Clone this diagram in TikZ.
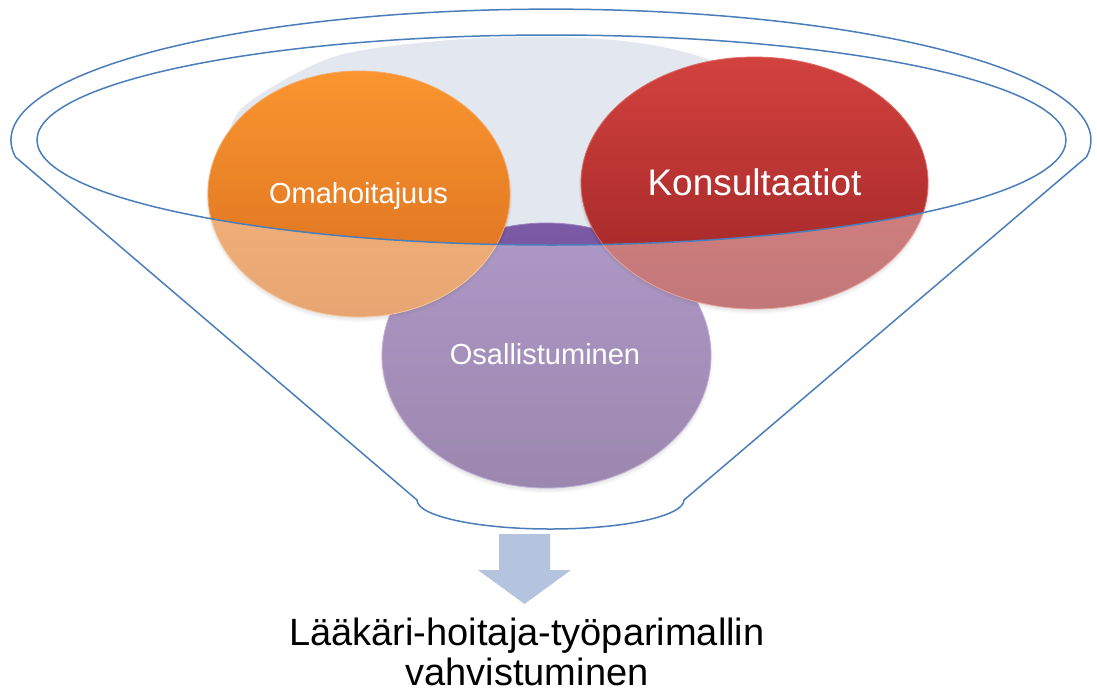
\documentclass[tikz,border=0pt]{standalone}
\usepackage{fontspec}
\setmainfont{Liberation Sans}
\usetikzlibrary{shapes.geometric,calc}

\definecolor{rim}{HTML}{4A7EBB}
\definecolor{haze}{HTML}{E2E7F0}
\definecolor{orTop}{HTML}{FA9530}
\definecolor{orBot}{HTML}{D96E1E}
\definecolor{orEdge}{HTML}{F6A866}
\definecolor{rdTop}{HTML}{D2423E}
\definecolor{rdBot}{HTML}{9D2426}
\definecolor{rdEdge}{HTML}{DC6A62}
\definecolor{puTop}{HTML}{7D5AA6}
\definecolor{puBot}{HTML}{5F3F7D}
\definecolor{puEdge}{HTML}{9A7FC0}
\definecolor{arrowfill}{HTML}{B4C4DE}

% outline of the funnel: upper rim arc, two sides, rounded spout
\def\funnelrim{(15.5,157) arc[start angle=172.6, end angle=367.4, x radius=540, y radius=131]
  -- (684,500) arc[start angle=0, end angle=180, x radius=133.5, y radius=29] -- cycle}
\def\funnelmouth{(551.5,140) ellipse[x radius=514.5, y radius=105]}

\tikzset{
  bubble/.style={ellipse, inner sep=0pt, outer sep=0pt, line width=0.8pt},
  bubbletext/.style={text=white, anchor=base, inner sep=0pt},
  rimline/.style={draw=rim, line width=1.5pt, line join=round},
}

\newcommand{\softshadow}[3]{% centre, x radius, y radius
  \foreach \k in {0,...,4}{
    \fill[black, opacity=0.035] ($#1+(0,3)$) ellipse[x radius={#2-2+\k}, y radius={#3-2+\k}];
  }}

\begin{document}
\begin{tikzpicture}[x=1pt, y=-1pt]
\useasboundingbox (0,0) rectangle (1097,691);

% pale backdrop inside the funnel mouth
\begin{scope}
  \clip \funnelmouth;
  \fill[haze] plot[smooth] coordinates {(226,150) (243,107) (333,57) (450,40) (555,37) (640,43) (710,60) (790,100)}
    -- (790,270) -- (226,270) -- cycle;
\end{scope}

% the three circles
\softshadow{(546.5,355.5)}{164.5}{132.5}
\node[bubble, minimum width=329pt, minimum height=265pt, top color=puTop, bottom color=puBot, draw=puEdge] (osa) at (546.5,355.5) {};
\softshadow{(359,194)}{151}{123}
\node[bubble, minimum width=302pt, minimum height=246pt, top color=orTop, bottom color=orBot, draw=orEdge] (oma) at (359,194) {};
\softshadow{(754.5,183)}{173.5}{126}
\node[bubble, minimum width=347pt, minimum height=252pt, top color=rdTop, bottom color=rdBot, draw=rdEdge] (kon) at (754.5,183) {};

% translucent front of the funnel body
\fill[white, opacity=0.38, even odd rule] \funnelrim \funnelmouth;

% funnel lines
\draw[rimline] \funnelrim;
\draw[rimline] \funnelmouth;

% circle labels
\node[bubbletext, font=\fontsize{29}{34}\selectfont] (omaT) at (358.5,203) {Omahoitajuus};
\node[bubbletext, font=\fontsize{37}{42}\selectfont] (konT) at (754.5,195) {Konsultaatiot};
\node[bubbletext, font=\fontsize{29}{34}\selectfont] (osaT) at (545,364) {Osallistuminen};

% output arrow and result
\fill[arrowfill] (499,534) -- (550,534) -- (550,570) -- (571,570) -- (524.5,604)
  -- (478,570) -- (499,570) -- cycle;
\node[anchor=base, align=center, inner sep=0pt, font=\fontsize{38}{40}\selectfont] (result) at (527,685)
  {Lääkäri-hoitaja-työparimallin\\vahvistuminen};
\end{tikzpicture}
\end{document}
